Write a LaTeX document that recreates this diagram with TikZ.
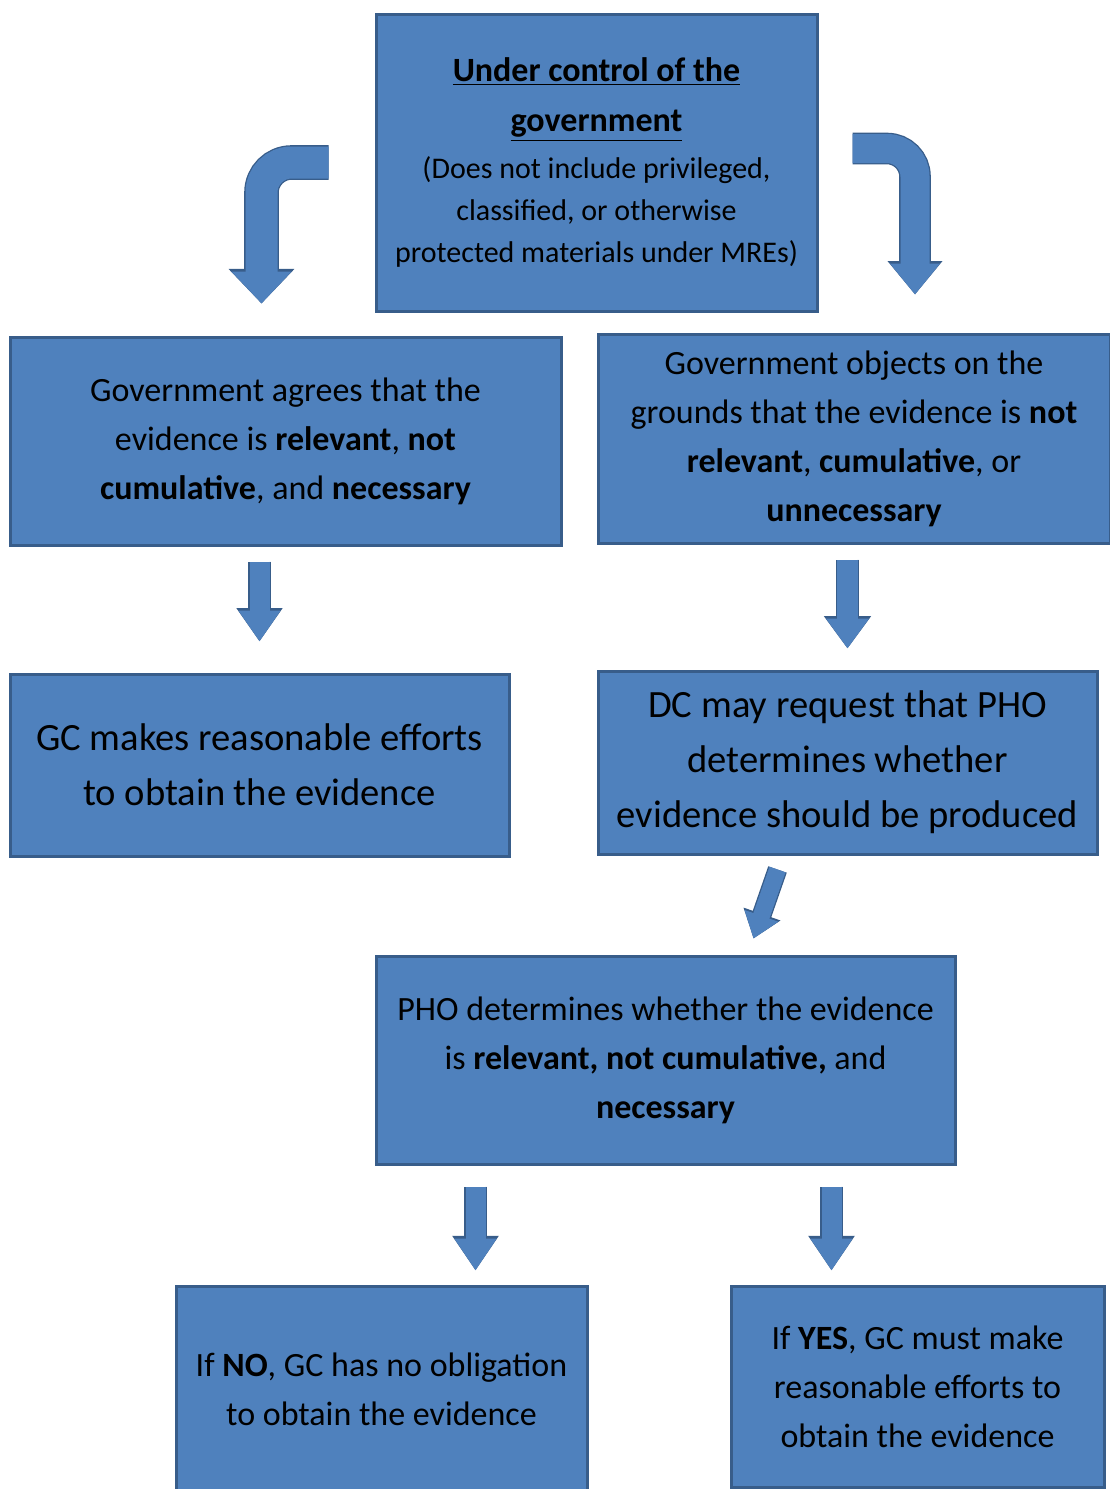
\documentclass[tikz,border=0pt]{standalone}
\usepackage{fontspec}
\setmainfont{Carlito}
\usetikzlibrary{arrows.meta, positioning}

\definecolor{boxblue}{HTML}{4F81BD}
\definecolor{edgeblue}{HTML}{385D8A}

\tikzset{
  blockarrow/.style n args={3}{
    draw=boxblue, line width=#1, -{Triangle[width=#2, length=#3]},
    preaction={draw=edgeblue, line width=#1+1.3pt,
      -{Triangle[width=#2, length=#3, scale width=1.1, scale length=1.08]}}
  }
}

\begin{document}
\begin{tikzpicture}[x=0.5pt, y=-0.5pt]
			\tikzstyle{box}=[
			rectangle, draw=edgeblue, fill=boxblue, line width=1.5pt,
			inner sep=0pt, align=center, text=black
			]
			\tikzstyle{small}=[font=\fontsize{17pt}{24.5pt}\selectfont]
			\tikzstyle{large}=[font=\fontsize{19.3pt}{27.5pt}\selectfont]
			
			\useasboundingbox (0,0) rectangle (1109,1489);
			
			\node[box, minimum width=220.5pt, minimum height=148.5pt,
			font=\fontsize{15pt}{21pt}\selectfont] (ctrl) at (596.5,162.5)
			{{\fontsize{17pt}{25pt}\selectfont\bfseries\underline{Under control of the}}\\[4pt]
				{\fontsize{17pt}{25pt}\selectfont\bfseries\underline{government}}\\[2.5pt]
				(Does not include privileged,\\classified, or otherwise\\protected materials under MREs)};
			
			\node[box, small, minimum width=275.5pt, minimum height=104pt] (agree) at (285.5,441)
			{Government agrees that the\\evidence is \textbf{relevant}, \textbf{not}\\
				\textbf{cumulative}, and \textbf{necessary}};
			\node[box, small, minimum width=256pt, minimum height=104.5pt] (object) at (854,438.5)
			{Government objects on the\\grounds that the evidence is \textbf{not}\\
				\textbf{relevant}, \textbf{cumulative}, or\\\textbf{unnecessary}};
			
			\node[box, large, minimum width=249.5pt, minimum height=91pt] (gc) at (259.5,765)
			{GC makes reasonable efforts\\to obtain the evidence};
			\node[box, large, minimum width=249.5pt, minimum height=91.5pt] (dc) at (847.5,762.5)
			{DC may request that PHO\\determines whether\\evidence should be produced};
			
			\node[box, small, minimum width=289.5pt, minimum height=104pt] (pho) at (665.5,1060)
			{PHO determines whether the evidence\\is \textbf{relevant, not cumulative,} and\\
				\textbf{necessary}};
			
			\node[box, small, minimum width=205.5pt, minimum height=103pt] (no) at (381.5,1389)
			{If \textbf{NO}, GC has no obligation\\to obtain the evidence};
			\node[box, small, minimum width=186.5pt, minimum height=100.5pt] (yes) at (917.5,1386.5)
			{If \textbf{YES}, GC must make\\reasonable efforts to\\obtain the evidence};
			
			% bent arrows out of the top box
			\draw[blockarrow={16pt}{29pt}{16pt}, rounded corners=15pt]
			([xshift=-23pt]ctrl.west) -| ([xshift=-12pt,yshift=16pt]agree.north);
			\draw[blockarrow={14.5pt}{24pt}{15.5pt}, rounded corners=14pt]
			([xshift=17pt,yshift=7pt]ctrl.east) -| ([xshift=30.5pt,yshift=19pt]object.north);
			
			% straight arrows
			\draw[blockarrow={10pt}{20pt}{15.5pt}]
			([yshift=-7.5pt]gc.north |- agree.south) -- ([yshift=15.5pt]gc.north);
			\draw[blockarrow={10.5pt}{20.5pt}{15pt}]
			([yshift=-7.5pt]dc.north |- object.south) -- ([yshift=10.5pt]dc.north);
			\draw[blockarrow={8.5pt}{17pt}{12pt}]
			([xshift=-35pt,yshift=-7pt]dc.south) -- ([xshift=44pt,yshift=8pt]pho.north);
			\draw[blockarrow={10pt}{20pt}{16pt}]
			([xshift=-95pt,yshift=-10.5pt]pho.south) -- ([xshift=-95pt,yshift=7pt]pho.south |- no.north);
			\draw[blockarrow={10pt}{20pt}{16pt}]
			([xshift=83pt,yshift=-10.5pt]pho.south) -- ([xshift=83pt,yshift=7pt]pho.south |- yes.north);
		\end{tikzpicture}
\end{document}
